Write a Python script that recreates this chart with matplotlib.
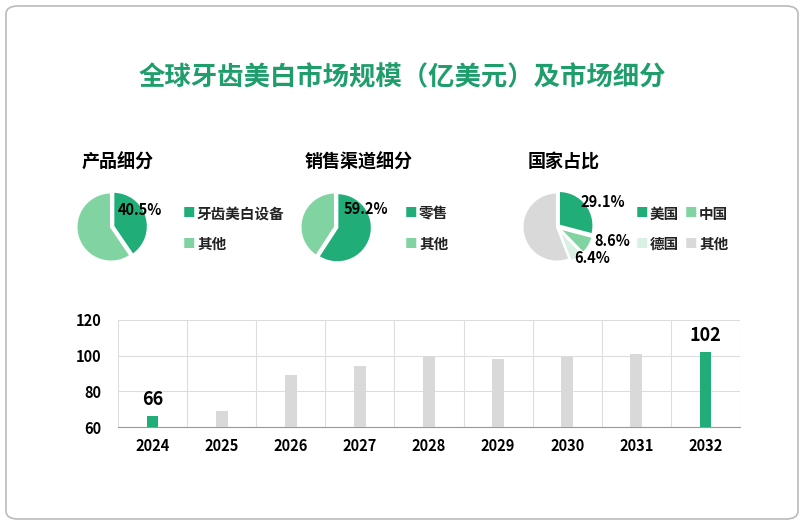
import matplotlib
matplotlib.use("Agg")
import matplotlib.pyplot as plt
from matplotlib.patches import FancyBboxPatch

plt.rcParams["font.family"] = "Noto Sans CJK SC"

title = "全球牙齿美白市场规模（亿美元）及市场细分"
years = ["2024", "2025", "2026", "2027", "2028", "2029", "2030", "2031", "2032"]
values = [66, 69, 89, 94, 100, 98, 99, 101, 102]
yticks = [60, 80, 100, 120]

pie1_title = "产品细分"
pie1_labels = ["牙齿美白设备", "其他"]
pie1_values = [40.5, 59.5]
pie2_title = "销售渠道细分"
pie2_labels = ["零售", "其他"]
pie2_values = [59.2, 40.8]
pie3_title = "国家占比"
pie3_labels = ["美国", "中国", "德国", "其他"]
pie3_values = [29.1, 8.6, 6.4, 55.9]

DARK = "#21ad78"
LIGHT = "#82d3a2"
PALE = "#d8f1e2"
GRAY = "#d9d9d9"

W, H = 804, 525
fig = plt.figure(figsize=(W / 100, H / 100), dpi=100)
box = FancyBboxPatch((6 / W, 6 / H), 792 / W, 513 / H,
                     boxstyle="round,pad=0,rounding_size=0.015",
                     transform=fig.transFigure, fc="none",
                     ec="#bbbbbb", lw=1.2, zorder=10)
fig.patches.append(box)
fig.text(0.5, 1 - 78 / H, title, ha="center", va="center", fontsize=19,
         fontweight="bold", color="#1f9e6c")

def px(x, y, w, h):
    return [x / W, 1 - (y + h) / H, w / W, h / H]

def ftext(x, y, s, **kw):
    fig.text(x / W, 1 - y / H, s, fontsize=10.5, fontweight="bold",
             ha="center", va="center", zorder=5, **kw)

def legend_item(x, y, color, label):
    fig.text(x / W, 1 - y / H, "■", color=color, fontsize=9, va="center", ha="left")
    fig.text((x + 14) / W, 1 - y / H, label, fontsize=10.5, fontweight="bold",
             va="center", ha="left", color="#222222")

# pie 1
fig.text(82 / W, 1 - 162 / H, pie1_title, fontsize=13, fontweight="bold", va="center")
ax1 = fig.add_axes(px(73, 189, 76, 76))
ax1.pie(pie1_values, colors=[DARK, LIGHT], startangle=90, counterclock=False,
        explode=[0.07, 0], radius=1.0, wedgeprops=dict(edgecolor="white", linewidth=1.5))
ax1.set_xlim(-1.1, 1.1); ax1.set_ylim(-1.1, 1.1)
ftext(140, 210, f"{pie1_values[0]}%")
legend_item(183, 214, DARK, pie1_labels[0])
legend_item(183, 244, LIGHT, pie1_labels[1])

# pie 2
fig.text(305 / W, 1 - 162 / H, pie2_title, fontsize=13, fontweight="bold", va="center")
ax2 = fig.add_axes(px(297, 189, 76, 76))
ax2.pie(pie2_values, colors=[DARK, LIGHT], startangle=90, counterclock=False,
        explode=[0.07, 0], wedgeprops=dict(edgecolor="white", linewidth=1.5))
ax2.set_xlim(-1.1, 1.1); ax2.set_ylim(-1.1, 1.1)
ftext(366, 209, f"{pie2_values[0]}%")
legend_item(405, 214, DARK, pie2_labels[0])
legend_item(405, 244, LIGHT, pie2_labels[1])

# pie 3
fig.text(528 / W, 1 - 162 / H, pie3_title, fontsize=13, fontweight="bold", va="center")
ax3 = fig.add_axes(px(519, 189, 76, 76))
ax3.pie(pie3_values, colors=[DARK, LIGHT, PALE, GRAY], startangle=90, counterclock=False,
        explode=[0.07, 0.07, 0.07, 0], wedgeprops=dict(edgecolor="white", linewidth=1.5))
ax3.set_xlim(-1.1, 1.1); ax3.set_ylim(-1.1, 1.1)
ftext(603, 202, f"{pie3_values[0]}%")
ftext(612, 241, f"{pie3_values[1]}%")
ftext(592, 258, f"{pie3_values[2]}%")
legend_item(636, 214, DARK, pie3_labels[0])
legend_item(685, 214, LIGHT, pie3_labels[1])
legend_item(636, 244, PALE, pie3_labels[2])
legend_item(685, 244, GRAY, pie3_labels[3])

# bars
axb = fig.add_axes(px(118, 320, 622, 107))
colors = [DARK if i in (0, len(values) - 1) else GRAY for i in range(len(values))]
x = list(range(len(values)))
axb.bar(x, values, width=0.17, color=colors, zorder=3)
axb.set_xlim(-0.5, len(values) - 0.5)
axb.set_ylim(60, 120)
axb.set_yticks(yticks)
axb.set_xticks(x)
axb.set_xticklabels(years)
for b in [i - 0.5 for i in range(len(values) + 1)]:
    axb.axvline(b, color="#dddddd", lw=0.8, zorder=1)
axb.grid(axis="y", color="#dddddd", lw=0.8, zorder=1)
for s in ["top", "right", "left"]:
    axb.spines[s].set_visible(False)
axb.spines["bottom"].set_color("#999999")
axb.tick_params(length=0, labelsize=10.5, pad=8)
axb.tick_params(axis="y", pad=12)
for lab in axb.get_xticklabels() + axb.get_yticklabels():
    lab.set_fontweight("bold")
for i in (0, len(values) - 1):
    axb.text(i, values[i] + 4, str(values[i]), ha="center", va="bottom",
             fontsize=13, fontweight="bold")

fig.savefig("out.png", dpi=100)
